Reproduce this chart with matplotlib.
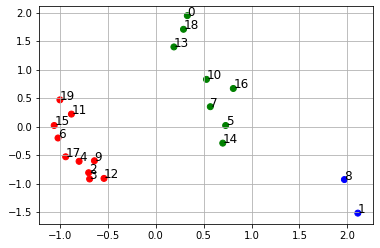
import matplotlib
matplotlib.use("Agg")
import matplotlib.pyplot as plt

# point ids, coordinates and cluster colours
ids = list(range(20))
xs = [0.33, 2.11, -0.70, -0.69, -0.80, 0.73, -1.02, 0.57, 1.97, -0.64,
      0.53, -0.88, -0.54, 0.19, 0.70, -1.06, 0.81, -0.94, 0.29, -1.00]
ys = [1.95, -1.52, -0.81, -0.92, -0.61, 0.02, -0.20, 0.35, -0.93, -0.60,
      0.83, 0.22, -0.91, 1.40, -0.29, 0.02, 0.67, -0.53, 1.71, 0.47]
cols = ['g', 'b', 'r', 'r', 'r', 'g', 'r', 'g', 'b', 'r',
        'g', 'r', 'r', 'g', 'g', 'r', 'g', 'r', 'g', 'r']

fig, ax = plt.subplots(figsize=(380/72, 248/72), dpi=72)
fig.subplots_adjust(left=0.1035, right=0.982, bottom=0.097, top=0.976)

ax.scatter(xs, ys, c=cols, s=36)
for i, x, y in zip(ids, xs, ys):
    ax.annotate(str(i), (x, y), fontsize=12)

ax.set_xlim(-1.215, 2.27)
ax.set_ylim(-1.71, 2.12)
ax.grid(True)

fig.savefig("out.png", dpi=72)
